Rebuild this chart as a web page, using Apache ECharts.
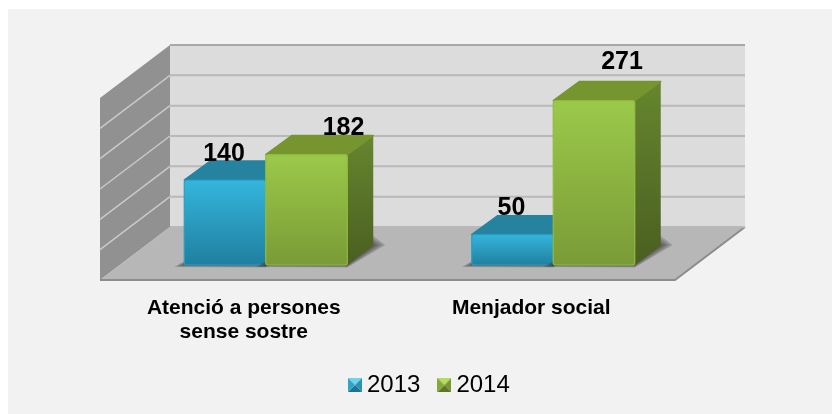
<!DOCTYPE html>
<html>

<head>
  <meta charset="utf-8">
  <title>Atenció a persones</title>
  <script src="https://cdn.jsdelivr.net/npm/echarts@6/dist/echarts.min.js"></script>
  <style>
    html, body { margin: 0; padding: 0; background: #fff; }
  </style>
</head>

<body>
  <div id="main" style="width: 832px;height:414px;"></div>
  <script type="text/javascript">
    var categories = ['Atenció a persones\nsense sostre', 'Menjador social'];
    var years = ['2013', '2014'];
    var values2013 = [140, 50];
    var values2014 = [182, 271];
    var valueTicks = [0, 50, 100, 150, 200, 250, 300];

    // hand-placed data labels, as in the original, offset from the top front edge centre
    var labelShift = {
      '2013': [[-1, -26], [-1, -27]],
      '2014': [[37, -26], [28, -38]]
    };

    var FONT = '"Liberation Sans", Arial, sans-serif';
    var DEPTH_X = 70, DEPTH_Y = 53;      // wall depth
    var BAR_DX = 26, BAR_DY = 19;        // bar depth
    var FLOOR_DX = 22, FLOOR_DY = 15;    // bar front set back from front edge of floor
    var BAR_W = 81.5;

    function vgrad(from, to) {
      return new echarts.graphic.LinearGradient(0, 0, 0, 1, [
        { offset: 0, color: from }, { offset: 1, color: to }
      ]);
    }

    // small bevelled square used as legend icon
    function bevelIcon(top, left, right, bottom) {
      var c = document.createElement('canvas');
      c.width = 14;
      c.height = 14;
      var ctx = c.getContext('2d');
      function tri(color, ax, ay, bx, by) {
        ctx.fillStyle = color;
        ctx.beginPath();
        ctx.moveTo(ax, ay);
        ctx.lineTo(bx, by);
        ctx.lineTo(7, 7);
        ctx.closePath();
        ctx.fill();
      }
      tri(top, 0, 0, 14, 0);
      tri(right, 14, 0, 14, 14);
      tri(bottom, 14, 14, 0, 14);
      tri(left, 0, 14, 0, 0);
      return 'image://' + c.toDataURL();
    }

    function plotEdges(api) {
      var band = api.size([1, 0])[0];
      var left = api.coord([0, 0])[0] - band / 2;
      return { left: left, right: left + band * categories.length };
    }

    function renderWalls(params, api) {
      var e = plotEdges(api);
      var bottom = api.coord([0, 0])[1];
      var top = api.coord([0, 300])[1];
      var l = e.left, r = e.right;
      return {
        type: 'group',
        children: [
          // back wall
          { type: 'rect', shape: { x: l + DEPTH_X, y: top - DEPTH_Y, width: r - l, height: bottom - top },
            style: { fill: '#dcdcdc' } },
          // left wall
          { type: 'polygon', shape: { points: [[l, top], [l + DEPTH_X, top - DEPTH_Y], [l + DEPTH_X, bottom - DEPTH_Y], [l, bottom]] },
            style: { fill: '#919191' } },
          // floor
          { type: 'polygon', shape: { points: [[l, bottom], [l + DEPTH_X, bottom - DEPTH_Y], [r + DEPTH_X, bottom - DEPTH_Y], [r, bottom]] },
            style: { fill: '#b7b7b7' } },
          { type: 'polyline', shape: { points: [[l, bottom], [r, bottom], [r + DEPTH_X, bottom - DEPTH_Y]] },
            style: { fill: null, stroke: '#8c8c8c', lineWidth: 2 } }
        ]
      };
    }

    function renderGridLine(params, api) {
      var e = plotEdges(api);
      var tick = api.value(0);
      var y = api.coord([0, tick])[1];
      var children = [];
      // no light line along the outer edges of the left wall
      if (tick > 0 && tick < 300) {
        children.push({ type: 'line', shape: { x1: e.left, y1: y, x2: e.left + DEPTH_X, y2: y - DEPTH_Y },
          style: { stroke: '#c9c9c9', lineWidth: 1.5 } });
      }
      children.push({ type: 'line', shape: { x1: e.left + DEPTH_X, y1: y - DEPTH_Y, x2: e.right + DEPTH_X, y2: y - DEPTH_Y },
        style: { stroke: tick === 300 ? '#a8a8a8' : '#b9b9b9', lineWidth: 2 } });
      return { type: 'group', children: children };
    }

    // stacked see-through polygons, wider each step, to fake the blurred floor shadow
    function shadowLayers(x, x2, y0) {
      var layers = [];
      for (var k = 1; k <= 4; k++) {
        var g = k * 2.5;
        layers.push({
          type: 'polygon', z2: 0,
          shape: { points: [[x - g, y0 + g / 5], [x2, y0 + g / 4], [x2 + BAR_DX + g * 1.2, y0 - BAR_DY - 1], [x2 + BAR_DX, y0 - BAR_DY - g], [x + BAR_DX, y0 - BAR_DY]] },
          style: { fill: 'rgba(50,50,50,0.22)' }
        });
      }
      return layers;
    }

    function barRenderer(yearIndex, colors) {
      return function (params, api) {
        var cat = api.value(0), val = api.value(1);
        var base = api.coord([cat, 0]);
        var top = api.coord([cat, val]);
        var x = base[0] + FLOOR_DX + (yearIndex - 1) * BAR_W;
        var y0 = base[1] - FLOOR_DY;
        var y1 = top[1] - FLOOR_DY;
        var x2 = x + BAR_W;
        var shift = labelShift[years[yearIndex]][cat];
        return {
          type: 'group',
          children: shadowLayers(x, x2, y0).concat([
            // side
            { type: 'polygon', z2: 1,
              shape: { points: [[x2, y1], [x2 + BAR_DX, y1 - BAR_DY], [x2 + BAR_DX, y0 - BAR_DY], [x2, y0]] },
              style: { fill: vgrad(colors.side[0], colors.side[1]) } },
            // top
            { type: 'polygon', z2: 1,
              shape: { points: [[x, y1], [x + BAR_DX, y1 - BAR_DY], [x2 + BAR_DX, y1 - BAR_DY], [x2, y1]] },
              style: { fill: colors.top, stroke: colors.top, lineWidth: 1.5, lineJoin: 'round' } },
            // front
            { type: 'rect', z2: 2,
              shape: { x: x, y: y1, width: BAR_W, height: y0 - y1, r: 2.5 },
              style: { fill: vgrad(colors.front[0], colors.front[1]), stroke: colors.edge, lineWidth: 1.2 } },
            { type: 'text', z2: 3,
              style: { text: String(val), x: x + BAR_W / 2 + shift[0], y: y1 + shift[1], align: 'center', verticalAlign: 'middle',
                font: 'bold 25px ' + FONT, fill: '#000' } }
          ])
        };
      };
    }

    var blue = { front: ['#35b6dd', '#1f7f9f'], top: '#25839f', side: ['#1f6f88', '#16566b'], edge: '#2a9ec2' };
    var green = { front: ['#9bca4a', '#7a9a36'], top: '#76952f', side: ['#66862e', '#4a5f21'], edge: '#8fbc40' };

    var myChart = echarts.init(document.getElementById('main'), null, { renderer: 'canvas' });

    var option = {
      animation: false,
      backgroundColor: '#fff',
      graphic: [
        { type: 'rect', z: -10, shape: { x: 8, y: 9, width: 824, height: 405 }, style: { fill: '#f2f2f2' } }
      ],
      legend: {
        data: [
          { name: years[0], icon: bevelIcon('#6fd3ee', '#2fa3c8', '#2a93b6', '#1d7391') },
          { name: years[1], icon: bevelIcon('#b4dc5f', '#86a83a', '#78982f', '#5d7726') }
        ],
        left: 343,
        top: 368,
        itemWidth: 14,
        itemHeight: 14,
        itemGap: 17,
        textStyle: { fontFamily: FONT, fontSize: 24, color: '#000' }
      },
      grid: { left: 100, right: 157, top: 98, bottom: 134 },
      xAxis: {
        type: 'category',
        data: categories,
        axisLine: { show: false },
        axisTick: { show: false },
        axisLabel: { color: '#000', fontFamily: FONT, fontWeight: 'bold', fontSize: 21, lineHeight: 24, margin: 16 }
      },
      yAxis: {
        type: 'value',
        min: 0,
        max: 300,
        interval: 50,
        show: false
      },
      series: [
        { type: 'custom', name: 'walls', silent: true, z: 1, renderItem: renderWalls, data: [[0]], encode: { x: 0 } },
        { type: 'custom', name: 'grid', silent: true, z: 2, renderItem: renderGridLine,
          data: valueTicks.map(function (t) { return [t]; }), encode: { y: 0 } },
        { type: 'custom', name: years[0], z: 3, renderItem: barRenderer(0, blue), itemStyle: { color: '#35b6dd' },
          data: values2013.map(function (v, i) { return [i, v]; }), encode: { x: 0, y: 1 } },
        { type: 'custom', name: years[1], z: 4, renderItem: barRenderer(1, green), itemStyle: { color: '#9bca4a' },
          data: values2014.map(function (v, i) { return [i, v]; }), encode: { x: 0, y: 1 } }
      ]
    };

    myChart.setOption(option);
  </script>
</body>

</html>
